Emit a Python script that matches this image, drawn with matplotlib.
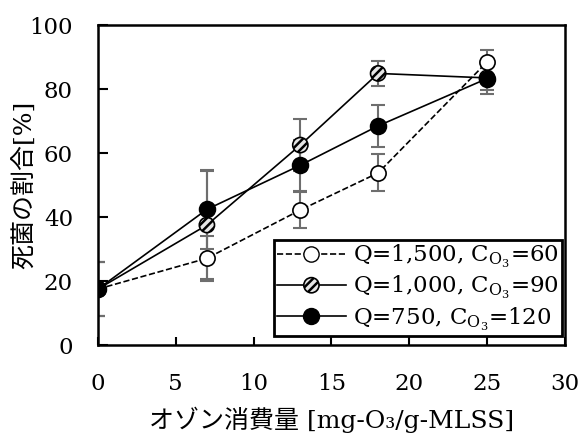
import matplotlib
matplotlib.use("Agg")
import matplotlib.pyplot as plt
from matplotlib.lines import Line2D

# ozone consumption [mg-O3/g-MLSS]
x = [0, 7, 13, 18, 25]

# dead-cell ratio [%] and error for each condition
y_open = [17.5, 27.1, 42.2, 53.8, 88.5]
e_open = [8.3, 7.0, 5.5, 5.8, 3.7]
y_hatch = [17.5, 37.5, 62.5, 84.9, 83.5]
e_hatch = [8.3, 17.0, 8.2, 3.9, 3.8]
y_black = [17.5, 42.4, 56.2, 68.5, 83.3]
e_black = [8.3, 12.3, 8.0, 6.5, 4.9]

labels = ['Q=1,500, C$_{\\mathrm{O_3}}$=60',
          'Q=1,000, C$_{\\mathrm{O_3}}$=90',
          'Q=750, C$_{\\mathrm{O_3}}$=120']

plt.rcParams['font.family'] = ['DejaVu Serif', 'Noto Sans CJK JP']
plt.rcParams['mathtext.fontset'] = 'dejavuserif'
plt.rcParams['hatch.linewidth'] = 1.8

fig = plt.figure(figsize=(5.83, 4.37), dpi=100)
ax = fig.add_axes([0.168, 0.2105, 0.801, 0.732])

ecol = '#6e6e6e'
ekw = dict(fmt='none', ecolor=ecol, elinewidth=1.5, capsize=5, capthick=1.5)

# hatched series
ax.errorbar(x, y_hatch, yerr=e_hatch, zorder=2, **ekw)
ax.plot(x, y_hatch, '-', color='black', lw=1.2, zorder=3)
sc_h = ax.scatter(x, y_hatch, s=120, facecolor='#e6e6e6', edgecolors='black',
                  linewidths=1.2, hatch='////', zorder=4)

# open series
ax.errorbar(x, y_open, yerr=e_open, zorder=2, **ekw)
ax.plot(x, y_open, '--', color='black', lw=1.2, zorder=3)
ax.scatter(x, y_open, s=120, facecolor='white', edgecolors='black',
           linewidths=1.2, zorder=4)

# black series
ax.errorbar(x, y_black, yerr=e_black, zorder=2, **ekw)
ax.plot(x, y_black, '-', color='black', lw=1.2, zorder=3)
ax.scatter(x, y_black, s=130, facecolor='black', edgecolors='black',
           linewidths=1.2, zorder=5)

h_open = Line2D([], [], ls='--', color='black', lw=1.2, marker='o',
                markersize=11, markerfacecolor='white', markeredgecolor='black')
h_hatch = (Line2D([], [], ls='-', color='black', lw=1.2), sc_h)
h_black = Line2D([], [], ls='-', color='black', lw=1.2, marker='o',
                 markersize=11.5, markerfacecolor='black', markeredgecolor='black')

leg = ax.legend([h_open, h_hatch, h_black], labels, loc='lower right',
                bbox_to_anchor=(0.9936, 0.028), fontsize=16.5, fancybox=False,
                framealpha=1, edgecolor='black', handlelength=3.0,
                handletextpad=0.3, borderpad=0.15, labelspacing=0.18,
                borderaxespad=0, scatterpoints=1, scatteryoffsets=[0.5])
leg.get_frame().set_linewidth(2)

ax.set_xlim(0, 30)
ax.set_ylim(0, 100)
ax.set_xticks([0, 5, 10, 15, 20, 25, 30])
ax.set_yticks([0, 20, 40, 60, 80, 100])
ax.tick_params(axis='x', direction='in', length=6, width=1.5, labelsize=16.5, pad=20)
ax.tick_params(axis='y', direction='in', length=7, width=1.5, labelsize=16.5, pad=18)
for s in ax.spines.values():
    s.set_linewidth(1.8)

ax.set_xlabel('オゾン消費量 [mg-O₃/g-MLSS]', fontsize=18)
ax.set_ylabel('死菌の割合[%]', fontsize=18)
ax.xaxis.set_label_coords(0.5, -0.194)
ax.yaxis.set_label_coords(-0.156, 0.5)
ax.yaxis.label.set_va('center')

fig.savefig('out.png', dpi=100)
